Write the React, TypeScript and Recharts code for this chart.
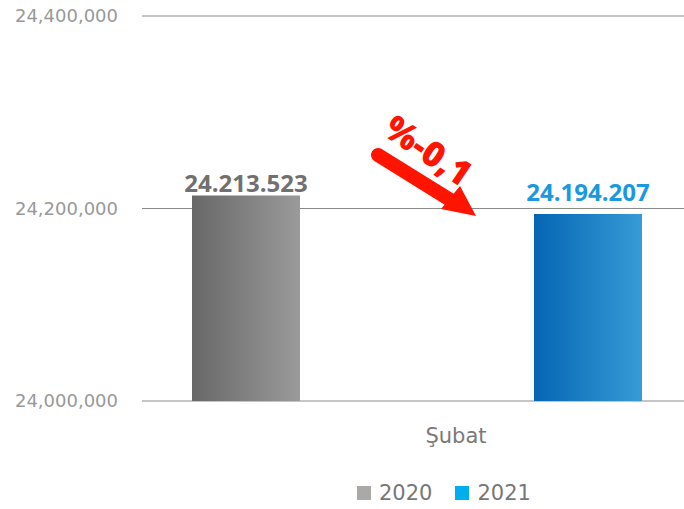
import { BarChart, Bar, XAxis, YAxis, CartesianGrid, Legend, LabelList } from "recharts";

const months = ["Şubat"];
const values2020 = [24213523];
const values2021 = [24194207];
const yTicks = [24000000, 24200000, 24400000];

const data = months.map((m, i) => ({ name: m, y2020: values2020[i], y2021: values2021[i] }));

const axisFont = "'DejaVu Sans', sans-serif";
const labelFont = "'Open Sans', sans-serif";

const dotted = (v: number) => String(v).replace(/\B(?=(\d{3})+(?!\d))/g, ".");
const commas = (v: number) => String(v).replace(/\B(?=(\d{3})+(?!\d))/g, ",");

function makeLabel(color: string, lift: number) {
  return (props: any) => {
    const { x, y, width, value } = props;
    return (
      <text
        x={x + width / 2}
        y={y - lift}
        textAnchor="middle"
        fill={color}
        fontFamily={labelFont}
        fontWeight={700}
        fontSize={24}
      >
        {dotted(value)}
      </text>
    );
  };
}

function MonthTick(props: any) {
  const { x, y, payload } = props;
  return (
    <text x={x + 39} y={y} dy={34} textAnchor="middle" fill="#7a7a7a" fontFamily={axisFont} fontSize={21}>
      {payload.value}
    </text>
  );
}

function LegendBox() {
  const items = [
    { label: "2020", color: "#aba8a8" },
    { label: "2021", color: "#00aeef" },
  ];
  return (
    <div
      style={{
        display: "flex",
        alignItems: "center",
        height: 48,
        paddingLeft: 357,
        paddingTop: 16,
        boxSizing: "border-box",
      }}
    >
      {items.map((it) => (
        <div key={it.label} style={{ display: "flex", alignItems: "center", marginRight: 23 }}>
          <span style={{ width: 14, height: 14, background: it.color, display: "inline-block", marginRight: 8 }} />
          <span style={{ fontFamily: axisFont, fontSize: 21, color: "#777", lineHeight: "24px" }}>{it.label}</span>
        </div>
      ))}
    </div>
  );
}

function DropArrow() {
  return (
    <svg width={684} height={509} style={{ position: "absolute", left: 0, top: 0, pointerEvents: "none" }}>
      <line x1={378} y1={155} x2={452} y2={201} stroke="#ff1400" strokeWidth={14} strokeLinecap="round" />
      <polygon points="441,209 460,186 476,216" fill="#ff1400" />
      <text
        x={428}
        y={163}
        textAnchor="middle"
        fill="#ff1400"
        fontFamily={labelFont}
        fontWeight={800}
        fontSize={35}
        transform="rotate(34 428 151)"
      >
        %-0,1
      </text>
    </svg>
  );
}

export default function App() {
  return (
    <div style={{ position: "absolute", left: 0, top: 0, width: 684, height: 509, background: "#fff" }}>
      <BarChart
        width={684}
        height={509}
        data={data}
        margin={{ top: 16, right: 0, left: 0, bottom: 0 }}
        barSize={108}
        barGap={234}
      >
        <defs>
          <linearGradient id="gray2020" x1="0" y1="0" x2="1" y2="0">
            <stop offset="0%" stopColor="#686868" />
            <stop offset="100%" stopColor="#9a9a9a" />
          </linearGradient>
          <linearGradient id="blue2021" x1="0" y1="0" x2="1" y2="0">
            <stop offset="0%" stopColor="#0565b3" />
            <stop offset="100%" stopColor="#369bd6" />
          </linearGradient>
        </defs>
        <CartesianGrid vertical={false} stroke="#8a8a8a" />
        <XAxis
          dataKey="name"
          height={60}
          axisLine={false}
          tickLine={false}
          padding={{ left: 8, right: 0 }}
          tick={<MonthTick />}
        />
        <YAxis
          width={142}
          domain={[24000000, 24400000]}
          ticks={yTicks}
          allowDataOverflow
          axisLine={false}
          tickLine={false}
          tickSize={0}
          tickMargin={24}
          tickFormatter={commas}
          tick={{ fill: "#999999", fontSize: 18, fontFamily: axisFont }}
        />
        <Legend verticalAlign="bottom" height={48} content={<LegendBox />} />
        <Bar dataKey="y2020" fill="url(#gray2020)" isAnimationActive={false}>
          <LabelList dataKey="y2020" content={makeLabel("#707070", 3)} />
        </Bar>
        <Bar dataKey="y2021" fill="url(#blue2021)" isAnimationActive={false}>
          <LabelList dataKey="y2021" content={makeLabel("#1a98e0", 13)} />
        </Bar>
      </BarChart>
      <DropArrow />
    </div>
  );
}
